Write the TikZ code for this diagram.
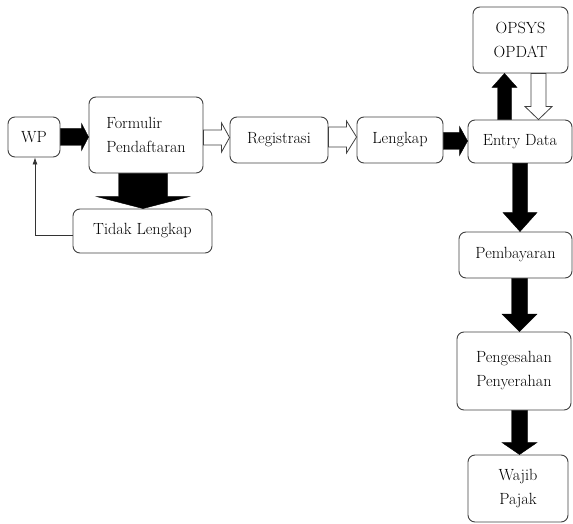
\documentclass[tikz,border=0pt]{standalone}
\usetikzlibrary{calc,arrows.meta}
\tikzset{
  box/.style={draw=black!75, line width=0.9pt, rounded corners=7pt, inner sep=0pt,
    align=center, font=\rmfamily\fontsize{16.2}{24}\selectfont},
  blk/.style={fill=black, draw=black, line width=0.4pt},
  wht/.style={fill=white, draw=black!75, line width=0.8pt},
  fb/.style={draw=black!80, line width=0.7pt, -{Latex[length=7pt,width=5pt]}}
}
% #1 start, #2 end, #3 shaft half width, #4 head half width, #5 head length, #6 style
\newcommand{\blkright}[6]{\path[#6] let \p1=(#1), \p2=(#2) in
  (\x1,\y1+#3) -- (\x2-#5,\y1+#3) -- (\x2-#5,\y1+#4) -- (\x2,\y1) --
  (\x2-#5,\y1-#4) -- (\x2-#5,\y1-#3) -- (\x1,\y1-#3) -- cycle;}
\newcommand{\blkdown}[6]{\path[#6] let \p1=(#1), \p2=(#2) in
  (\x1-#3,\y1) -- (\x1-#3,\y2+#5) -- (\x1-#4,\y2+#5) -- (\x1,\y2) --
  (\x1+#4,\y2+#5) -- (\x1+#3,\y2+#5) -- (\x1+#3,\y1) -- cycle;}
\newcommand{\blkup}[6]{\path[#6] let \p1=(#1), \p2=(#2) in
  (\x1-#3,\y1) -- (\x1-#3,\y2-#5) -- (\x1-#4,\y2-#5) -- (\x1,\y2) --
  (\x1+#4,\y2-#5) -- (\x1+#3,\y2-#5) -- (\x1+#3,\y1) -- cycle;}
\begin{document}
\begin{tikzpicture}[x=1pt,y=-1pt]
\useasboundingbox (0,0) rectangle (573,524);
\node[box, minimum width=52pt, minimum height=40pt] (wp) at (34,137) {WP};
\node[box, minimum width=114pt, minimum height=76pt, align=left] (form) at (146,135) {Formulir\\Pendaftaran};
\node[box, minimum width=139pt, minimum height=44pt] (tidak) at (142.5,231) {Tidak Lengkap};
\node[box, minimum width=98pt, minimum height=46pt] (reg) at (279,140) {Registrasi};
\node[box, minimum width=86pt, minimum height=46pt] (leng) at (400,140) {Lengkap};
\node[box, minimum width=104pt, minimum height=43pt] (entry) at (520,141.5) {Entry Data};
\node[box, minimum width=95pt, minimum height=66pt] (opsys) at (520.5,40) {OPSYS\\OPDAT};
\node[box, minimum width=113pt, minimum height=46pt] (pemb) at (515.5,255) {Pembayaran};
\node[box, minimum width=114pt, minimum height=78pt] (peng) at (514,371) {Pengesahan\\Penyerahan};
\node[box, minimum width=100pt, minimum height=67pt] (wajib) at (518,488.5) {Wajib\\Pajak};

% connectors
\blkright{wp.east}{form.west}{8.5pt}{13.5pt}{7pt}{blk}
\blkdown{$(tidak.north |- form.south)+(0.5,0)$}{tidak.north}{24.5pt}{46.5pt}{12pt}{blk}
\blkright{$(form.east)+(0,2.5)$}{reg.west}{7.5pt}{14.5pt}{8pt}{wht}
\blkright{$(reg.east)+(0,-3)$}{leng.west}{10pt}{16pt}{10pt}{wht}
\blkright{$(leng.east)+(0,1)$}{entry.west}{8.5pt}{14.5pt}{8pt}{blk}
\blkup{$(entry.north)+(-15.5,0)$}{opsys.south}{7pt}{12.5pt}{14pt}{blk}
\blkdown{$(opsys.south)+(18,0)$}{entry.north}{7.5pt}{13.5pt}{13pt}{wht}
\blkdown{entry.south}{pemb.north}{7.5pt}{17pt}{19pt}{blk}
\blkdown{$(pemb.south)+(4,0)$}{peng.north}{8pt}{17.5pt}{17.5pt}{blk}
\blkdown{$(peng.south)+(5.5,0)$}{wajib.north}{8pt}{17.5pt}{12pt}{blk}
\draw[fb] ($(tidak.west)+(0,4)$) -| ($(wp.south)+(1,0)$);
\end{tikzpicture}
\end{document}
